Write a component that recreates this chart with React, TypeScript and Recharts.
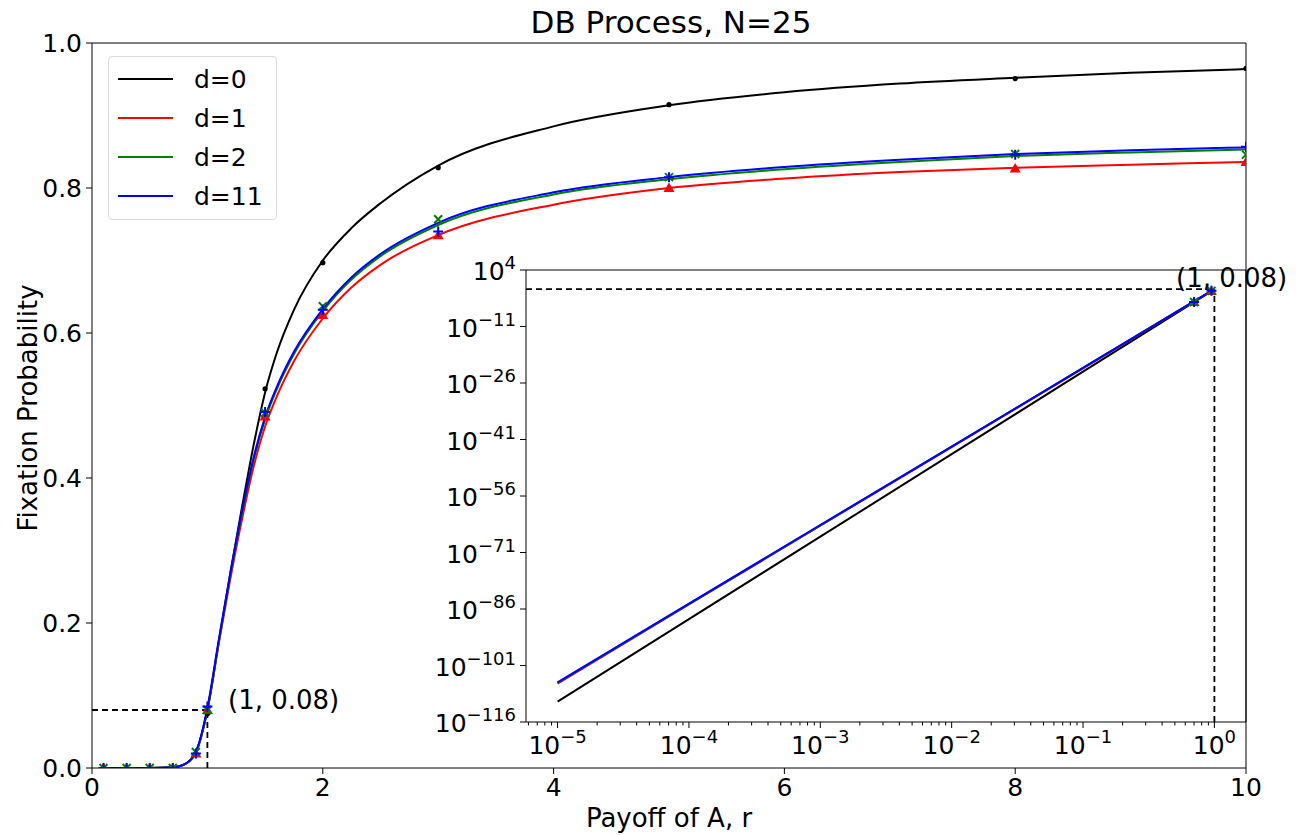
import React from "react";
import { ComposedChart, Line, Scatter, XAxis, YAxis, ReferenceLine } from "recharts";

const FONT = "'DejaVu Sans', sans-serif";

const seriesNames = ["d=0", "d=1", "d=2", "d=11"];
const seriesColors = ["#000000", "#ff0000", "#008000", "#0000ff"];

// theory curves (main panel)
const curveR = [0.1, 0.5, 0.7, 0.8, 0.9, 1.0, 1.1, 1.2, 1.3, 1.4, 1.5, 1.6, 1.75, 2, 2.25, 2.5, 3, 4, 5, 6, 7, 8, 9, 10];
const curveD0 = [0, 0, 0.001, 0.005, 0.022, 0.08, 0.175, 0.27, 0.36, 0.445, 0.518, 0.572, 0.632, 0.7, 0.745, 0.779, 0.831, 0.885, 0.914, 0.932, 0.944, 0.952, 0.959, 0.964];
const curveD1 = [0, 0, 0.001, 0.005, 0.021, 0.08, 0.173, 0.262, 0.343, 0.415, 0.471, 0.512, 0.561, 0.62, 0.663, 0.694, 0.735, 0.777, 0.8, 0.813, 0.822, 0.828, 0.832, 0.836];
const curveD2 = [0, 0, 0.001, 0.005, 0.022, 0.081, 0.176, 0.267, 0.351, 0.425, 0.481, 0.522, 0.571, 0.63, 0.674, 0.706, 0.749, 0.791, 0.812, 0.826, 0.836, 0.844, 0.849, 0.853];
const curveD11 = [0, 0, 0.001, 0.005, 0.022, 0.083, 0.178, 0.27, 0.354, 0.428, 0.484, 0.525, 0.574, 0.633, 0.677, 0.709, 0.752, 0.794, 0.815, 0.829, 0.839, 0.847, 0.852, 0.856];

// simulation points (main panel)
const simR = [0.1, 0.3, 0.5, 0.7, 0.9, 1, 1.5, 2, 3, 5, 8, 10];
const simD0 = [0, 0, 0, 0, 0.02, 0.075, 0.523, 0.697, 0.828, 0.915, 0.951, 0.965];
const simD1 = [0, 0, 0, 0, 0.02, 0.08, 0.485, 0.625, 0.735, 0.8, 0.827, 0.836];
const simD2 = [0, 0, 0, 0, 0.022, 0.08, 0.49, 0.637, 0.757, 0.815, 0.847, 0.846];
const simD11 = [0, 0, 0, 0, 0.02, 0.085, 0.491, 0.632, 0.74, 0.815, 0.846, 0.857];

// inset (log-log), values stored as log10 of probability
const insetR = [1e-5, 1e-4, 1e-3, 1e-2, 1e-1, 1];
const insetExpD0 = [-110.6, -88.7, -66.8, -44.9, -23.0, -1.12];
const insetExpD1 = [-105.8, -84.8, -63.9, -43.0, -22.1, -1.1];
const insetExpD2 = [-105.6, -84.7, -63.8, -42.9, -22.0, -1.09];
const insetExpD11 = [-105.5, -84.6, -63.7, -42.9, -22.0, -1.08];
const insetSimR = [0.7, 0.95];
const insetSimExpD0 = [-4.6, -1.6];
const insetSimExpD1 = [-4.5, -1.55];
const insetSimExpD2 = [-4.5, -1.55];
const insetSimExpD11 = [-4.5, -1.5];

const mainXTicks = [0, 2, 4, 6, 8, 10];
const mainYTicks = [0, 0.2, 0.4, 0.6, 0.8, 1.0];
const insetXDecades = [-5, -4, -3, -2, -1, 0];
const insetXMinorMult = [2, 3, 4, 5, 6, 7, 8, 9];
const insetYTicks = [4, -11, -26, -41, -56, -71, -86, -101, -116];

const insetXMin = 5.75e-6;
const insetXMax = 1.74;

const toPts = (xs: number[], ys: number[]) => xs.map((r, i) => ({ r, p: ys[i] }));
const toLogPts = (xs: number[], es: number[]) => xs.map((r, i) => ({ r, p: Math.pow(10, es[i]) }));

const curves = [curveD0, curveD1, curveD2, curveD11].map((c) => toPts(curveR, c));
const sims = [simD0, simD1, simD2, simD11].map((s) => toPts(simR, s));
const insetCurves = [insetExpD0, insetExpD1, insetExpD2, insetExpD11].map((e) => toLogPts(insetR, e));
const insetSims = [insetSimExpD0, insetSimExpD1, insetSimExpD2, insetSimExpD11].map((e) => toLogPts(insetSimR, e));

const insetXTicks: number[] = [];
[-6, ...insetXDecades].forEach((d) => {
  if (d >= -5) insetXTicks.push(Math.pow(10, d));
  insetXMinorMult.forEach((m) => {
    const v = m * Math.pow(10, d);
    if (v > insetXMin && v < insetXMax) insetXTicks.push(v);
  });
});

// markers
const DotMark = (p: any) => <circle cx={p.cx} cy={p.cy} r={2.6} fill="#000" />;
const TriMark = (p: any) => (
  <path d={`M${p.cx},${p.cy - 5.5}L${p.cx + 5.5},${p.cy + 4}L${p.cx - 5.5},${p.cy + 4}Z`} fill="#ff0000" />
);
const XMark = (p: any) => (
  <path
    d={`M${p.cx - 4},${p.cy - 4}L${p.cx + 4},${p.cy + 4}M${p.cx - 4},${p.cy + 4}L${p.cx + 4},${p.cy - 4}`}
    stroke="#008000"
    strokeWidth={2}
    fill="none"
  />
);
const PlusMark = (p: any) => (
  <path
    d={`M${p.cx - 5},${p.cy}L${p.cx + 5},${p.cy}M${p.cx},${p.cy - 5}L${p.cx},${p.cy + 5}`}
    stroke="#0000ff"
    strokeWidth={2}
    fill="none"
  />
);
const markers = [DotMark, TriMark, XMark, PlusMark];

const sup = (e: number) => (e < 0 ? "\u2212" + Math.abs(e) : String(e));

const LogXTick = (props: any) => {
  const { x, y, payload } = props;
  const e = Math.log10(payload.value);
  const major = Math.abs(e - Math.round(e)) < 1e-6;
  return (
    <g>
      <line x1={x} x2={x} y1={y} y2={y + (major ? 6 : 3.5)} stroke="#000" strokeWidth={1} />
      {major && (
        <text x={x} y={y + 32} textAnchor="middle" fontSize={25} fill="#000" fontFamily={FONT}>
          10
          <tspan dy={-11} fontSize={18}>{sup(Math.round(e))}</tspan>
        </text>
      )}
    </g>
  );
};

const LogYTick = (props: any) => {
  const { x, y, payload } = props;
  const e = Math.round(Math.log10(payload.value));
  return (
    <g>
      <line x1={x - 6} x2={x} y1={y} y2={y} stroke="#000" strokeWidth={1} />
      <text x={x - 10} y={y + 10} textAnchor="end" fontSize={25} fill="#000" fontFamily={FONT}>
        10
        <tspan dy={-11} fontSize={18}>{sup(e)}</tspan>
      </text>
    </g>
  );
};

const label = (style: React.CSSProperties, text: string) => (
  <div style={{ position: "absolute", whiteSpace: "nowrap", lineHeight: 1, color: "#000", ...style }}>{text}</div>
);

export default function App() {
  return (
    <div style={{ position: "absolute", left: 0, top: 0, width: 1303, height: 835, background: "#fff", fontFamily: FONT }}>
      <ComposedChart width={1303} height={835} margin={{ top: 43, right: 57, bottom: 37, left: 32 }}>
        <XAxis
          dataKey="r"
          type="number"
          domain={[0, 10]}
          ticks={mainXTicks}
          allowDataOverflow
          height={30}
          tickSize={6}
          tickMargin={4}
          stroke="#000"
          tick={{ fill: "#000", fontSize: 25, fontFamily: FONT }}
        />
        <YAxis
          dataKey="p"
          type="number"
          domain={[0, 1]}
          ticks={mainYTicks}
          allowDataOverflow
          width={60}
          tickSize={6}
          tickMargin={4}
          stroke="#000"
          tickFormatter={(v: number) => v.toFixed(1)}
          tick={{ fill: "#000", fontSize: 25, fontFamily: FONT }}
        />
        <ReferenceLine y={1} stroke="#000" />
        <ReferenceLine x={10} stroke="#000" />
        <ReferenceLine segment={[{ x: 0, y: 0.08 }, { x: 1, y: 0.08 }]} stroke="#000" strokeWidth={1.8} strokeDasharray="6 4" />
        <ReferenceLine segment={[{ x: 1, y: 0 }, { x: 1, y: 0.08 }]} stroke="#000" strokeWidth={1.8} strokeDasharray="6 4" />
        {curves.map((d, i) => (
          <Line
            key={seriesNames[i]}
            data={d}
            dataKey="p"
            type="monotone"
            stroke={seriesColors[i]}
            strokeWidth={2}
            dot={false}
            isAnimationActive={false}
          />
        ))}
        {sims.map((d, i) => (
          <Scatter key={"s" + i} data={d} dataKey="p" shape={markers[i]} isAnimationActive={false} />
        ))}
      </ComposedChart>

      <div style={{ position: "absolute", left: 420, top: 238 }}>
        <ComposedChart width={880} height={540} margin={{ top: 32, right: 54, bottom: 0, left: 0 }}>
          <XAxis
            dataKey="r"
            type="number"
            scale="log"
            domain={[insetXMin, insetXMax]}
            ticks={insetXTicks}
            allowDataOverflow
            height={56}
            tickSize={0}
            tickMargin={0}
            tickLine={false}
            stroke="#000"
            tick={<LogXTick />}
            interval={0}
          />
          <YAxis
            dataKey="p"
            type="number"
            scale="log"
            domain={[1e-116, 1e4]}
            ticks={insetYTicks.map((e) => Math.pow(10, e))}
            allowDataOverflow
            width={106}
            tickSize={0}
            tickMargin={0}
            tickLine={false}
            stroke="#000"
            tick={<LogYTick />}
            interval={0}
          />
          <ReferenceLine y={1e4} stroke="#000" />
          <ReferenceLine x={insetXMax} stroke="#000" />
          <ReferenceLine segment={[{ x: insetXMin, y: 0.08 }, { x: 1, y: 0.08 }]} stroke="#000" strokeWidth={1.8} strokeDasharray="6 4" />
          <ReferenceLine segment={[{ x: 1, y: 1e-116 }, { x: 1, y: 0.08 }]} stroke="#000" strokeWidth={1.8} strokeDasharray="6 4" />
          {insetCurves.map((d, i) => (
            <Line
              key={"i" + seriesNames[i]}
              data={d}
              dataKey="p"
              type="linear"
              stroke={seriesColors[i]}
              strokeWidth={2}
              dot={false}
              isAnimationActive={false}
            />
          ))}
          {insetSims.map((d, i) => (
            <Scatter key={"is" + i} data={d} dataKey="p" shape={markers[i]} isAnimationActive={false} />
          ))}
        </ComposedChart>
      </div>

      {label({ left: 671, top: 22, fontSize: 31, transform: "translate(-50%, -50%)" }, "DB Process, N=25")}
      {label({ left: 669, top: 818, fontSize: 26, transform: "translate(-50%, -50%)" }, "Payoff of A, r")}
      {label({ left: 28, top: 408, fontSize: 26, transform: "translate(-50%, -50%) rotate(-90deg)" }, "Fixation Probability")}
      {label({ left: 228, top: 700, fontSize: 26, transform: "translate(0, -50%)" }, "(1, 0.08)")}
      {label({ left: 1176, top: 278, fontSize: 26, transform: "translate(0, -50%)" }, "(1, 0.08)")}

      <div
        style={{
          position: "absolute",
          left: 108,
          top: 56,
          width: 167,
          height: 162,
          border: "1px solid #d9d9d9",
          borderRadius: 4,
          background: "rgba(255,255,255,0.8)",
        }}
      >
        {seriesNames.map((n, i) => (
          <div key={n} style={{ position: "absolute", left: 0, top: 21.5 + i * 39.2, width: 167 }}>
            <div style={{ position: "absolute", left: 9, top: -1, width: 55, height: 2, background: seriesColors[i] }} />
            <div style={{ position: "absolute", left: 85, top: 0, transform: "translateY(-50%)", fontSize: 25, lineHeight: 1, whiteSpace: "nowrap" }}>
              {n}
            </div>
          </div>
        ))}
      </div>
    </div>
  );
}
